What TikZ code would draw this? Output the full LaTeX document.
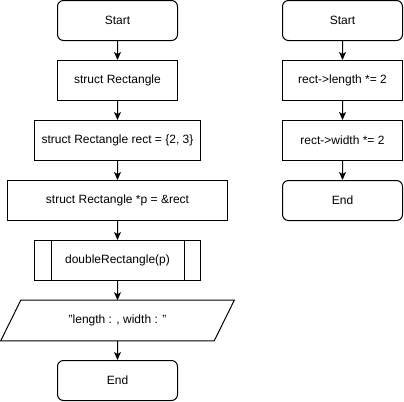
\documentclass[tikz,border=0pt]{standalone}
\usepackage{fontspec}
\setmainfont{Liberation Sans}
\usetikzlibrary{arrows.meta,positioning,calc}
\definecolor{flowline}{HTML}{000000}

\begin{document}
\begin{tikzpicture}[x=1pt, y=-1pt, scale=0.75,
    every node/.style={font=\fontsize{9}{11}\selectfont, text=flowline},
    terminal/.style={draw=flowline, line width=0.75pt, rounded corners=4.5pt, minimum width=90pt, minimum height=30pt, inner sep=0pt},
    process/.style={draw=flowline, line width=0.75pt, minimum height=30pt, inner sep=0pt},
    flow/.style={-{Stealth[length=6pt, width=5.25pt, inset=1.5pt]}, line width=0.75pt, flowline}]
  \useasboundingbox (0,0) rectangle (404,401);
  \node[terminal] (startmain) at (117.5,20.5) {Start};
  \node[process, minimum width=90pt] (decl) at (117.5,80.5) {struct Rectangle};
  \node[process, minimum width=124.5pt] (init) at (117.5,140.5) {struct Rectangle rect = \{2, 3\}};
  \node[process, minimum width=165pt] (ptr) at (117.5,200.5) {struct Rectangle *p = \&rect};
  \node[process, minimum width=124.5pt] (call) at (117.5,260.5) {doubleRectangle(p)};
  \draw[line width=0.75pt, flowline] ($(call.north west)+(17,0)$) -- ($(call.south west)+(17,0)$);
  \draw[line width=0.75pt, flowline] ($(call.north east)+(-17,0)$) -- ($(call.south east)+(-17,0)$);
  \node[minimum width=159.75pt, minimum height=30pt, inner sep=0pt] (print) at (117.5,320.5) {"length : , width : "};
  \draw[line width=0.75pt, flowline] ($(print.south west)+(-10,0)$) -- ($(print.north west)+(10,0)$)
    -- ($(print.north east)+(10,0)$) -- ($(print.south east)+(-10,0)$) -- cycle;
  \node[terminal] (endmain) at (117.5,380.5) {End};

  \node[terminal] (startfn) at (342.5,20.5) {Start};
  \node[process, minimum width=90pt] (len) at (342.5,80.5) {rect->length *= 2};
  \node[process, minimum width=90pt] (wid) at (342.5,140.5) {rect->width *= 2};
  \node[terminal] (endfn) at (342.5,200.5) {End};

  \foreach \from/\to in {startmain/decl, decl/init, init/ptr, ptr/call, call/print, print/endmain, startfn/len, len/wid, wid/endfn} {
    \draw[flow] (\from) -- (\to);
  }
\end{tikzpicture}
\end{document}
